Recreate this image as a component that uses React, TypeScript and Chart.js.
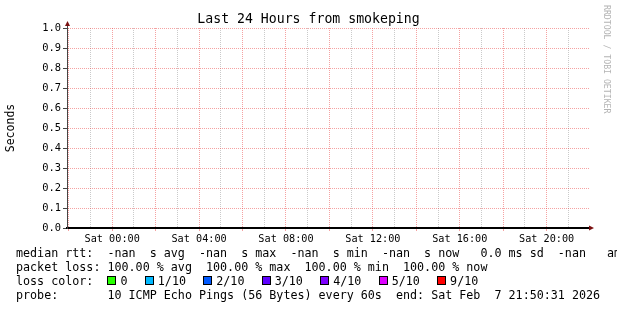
import React, { useEffect, useRef } from "react";
import { Chart, registerables } from "chart.js";

Chart.register(...registerables);

const FONT = "'DejaVu Sans Mono', monospace";

// ---- time axis (hours relative to Sat 00:00) ----
const windowStartHour = -2.08;
const windowEndHour = 21.95;
const hourGridTicks = [-2, -1, 0, 1, 2, 3, 4, 5, 6, 7, 8, 9, 10, 11, 12, 13, 14, 15, 16, 17, 18, 19, 20, 21];
const labelHours = [0, 4, 8, 12, 16, 20];
const labelTexts = ["Sat 00:00", "Sat 04:00", "Sat 08:00", "Sat 12:00", "Sat 16:00", "Sat 20:00"];

// ---- value axis ----
const yTickValues = [0, 0.1, 0.2, 0.3, 0.4, 0.5, 0.6, 0.7, 0.8, 0.9, 1.0];
const yTickLabels = ["0.0", "0.1", "0.2", "0.3", "0.4", "0.5", "0.6", "0.7", "0.8", "0.9", "1.0"];

// ---- series: median rtt (all samples are -nan, 100% loss) ----
const sampleHours = [-2, -1, 0, 1, 2, 3, 4, 5, 6, 7, 8, 9, 10, 11, 12, 13, 14, 15, 16, 17, 18, 19, 20, 21];
const medianRtt: (number | null)[] = [
  null, null, null, null, null, null, null, null, null, null, null, null,
  null, null, null, null, null, null, null, null, null, null, null, null,
];

// ---- legend ----
const lossLabels = ["0", "1/10", "2/10", "3/10", "4/10", "5/10", "9/10"];
const lossColors = ["#26ff00", "#00b8ff", "#0059ff", "#5e00ff", "#7e00ff", "#dd00ff", "#ff0000"];

const titleText = "Last 24 Hours from smokeping";
const yAxisTitle = "Seconds";
const watermarkText = "RRDTOOL / TOBI OETIKER";
const medianLine = "median rtt:  -nan  s avg  -nan  s max  -nan  s min  -nan  s now   0.0 ms sd  -nan   am";
const lossLine = "packet loss: 100.00 % avg  100.00 % max  100.00 % min  100.00 % now";
const lossColorLabel = "loss color:  ";
const probeLine = "probe:       10 ICMP Echo Pings (56 Bytes) every 60s  end: Sat Feb  7 21:50:31 2026";

const MAJOR = "rgba(235,70,70,0.5)";
const MINOR = "rgba(150,150,150,0.5)";
const ARROW = "#7a1010";

const arrowPlugin = {
  id: "rrdArrows",
  afterDraw(chart: any) {
    const { ctx, chartArea } = chart;
    const { left, right, top, bottom } = chartArea;
    ctx.save();
    ctx.strokeStyle = "#444";
    ctx.lineWidth = 1;
    ctx.beginPath();
    ctx.moveTo(left + 0.5, top);
    ctx.lineTo(left + 0.5, top - 4);
    ctx.stroke();
    ctx.fillStyle = ARROW;
    ctx.beginPath();
    ctx.moveTo(left - 2, top - 2);
    ctx.lineTo(left + 3, top - 2);
    ctx.lineTo(left + 0.5, top - 7);
    ctx.closePath();
    ctx.fill();
    ctx.beginPath();
    ctx.moveTo(right, bottom - 2.5);
    ctx.lineTo(right, bottom + 2.5);
    ctx.lineTo(right + 5, bottom);
    ctx.closePath();
    ctx.fill();
    ctx.restore();
  },
};

export default function App() {
  const canvasRef = useRef<HTMLCanvasElement | null>(null);

  useEffect(() => {
    const canvas = canvasRef.current;
    if (!canvas) return;
    const chart = new Chart(canvas, {
      type: "line",
      data: {
        datasets: [
          {
            label: "median rtt",
            data: sampleHours.map((h, i) => ({ x: h, y: medianRtt[i] })) as any,
            borderColor: "#000",
            borderWidth: 1,
            pointRadius: 0,
            spanGaps: false,
          },
        ],
      },
      options: {
        animation: false,
        responsive: false,
        maintainAspectRatio: false,
        layout: { padding: { top: 28, right: 28, bottom: 0, left: 0 } },
        plugins: {
          legend: { display: false },
          tooltip: { enabled: false },
          title: { display: false },
        },
        scales: {
          x: {
            type: "linear",
            min: windowStartHour,
            max: windowEndHour,
            afterBuildTicks: (scale: any) => {
              scale.ticks = hourGridTicks.map((v) => ({ value: v }));
            },
            afterFit: (scale: any) => {
              scale.height = 82;
              scale.paddingLeft = 0;
              scale.paddingRight = 0;
            },
            grid: {
              color: (c: any) => (c.tick && c.tick.value % 2 === 0 ? MAJOR : MINOR),
              lineWidth: 1,
              tickLength: 3,
              tickColor: (c: any) => (c.tick && c.tick.value % 2 === 0 ? MAJOR : "rgba(0,0,0,0)"),
              tickBorderDash: [],
            },
            border: { display: true, color: "#000", width: 2, dash: [1, 1] },
            ticks: {
              autoSkip: false,
              maxRotation: 0,
              minRotation: 0,
              padding: 2,
              color: "#000",
              font: { family: FONT, size: 10.2 },
              callback: (value: any) => {
                const i = labelHours.indexOf(Number(value));
                return i >= 0 ? labelTexts[i] : "";
              },
            },
          },
          y: {
            type: "linear",
            min: 0,
            max: 1,
            afterBuildTicks: (scale: any) => {
              scale.ticks = yTickValues.map((v) => ({ value: v }));
            },
            afterFit: (scale: any) => {
              scale.width = 67;
              scale.paddingTop = 0;
              scale.paddingBottom = 0;
            },
            grid: {
              color: MAJOR,
              lineWidth: 1,
              tickLength: 4,
              tickColor: "#444",
              tickBorderDash: [],
            },
            border: { display: true, color: "#444", width: 1, dash: [1, 1] },
            title: {
              display: true,
              text: yAxisTitle,
              color: "#000",
              font: { family: FONT, size: 11.5 },
              padding: { top: 4, bottom: 0 },
            },
            ticks: {
              autoSkip: false,
              padding: 2,
              color: "#000",
              font: { family: FONT, size: 10.4 },
              callback: (_v: any, i: number) => yTickLabels[i],
            },
          },
        },
      },
      plugins: [arrowPlugin],
    });
    return () => chart.destroy();
  }, []);

  const lineStyle = (top: number): React.CSSProperties => ({
    position: "absolute",
    left: 16,
    top,
    whiteSpace: "pre",
    fontFamily: FONT,
    fontSize: "11.7px",
    lineHeight: "14px",
    color: "#000",
  });

  return (
    <div
      style={{
        position: "absolute",
        left: 0,
        top: 0,
        width: 617,
        height: 310,
        overflow: "hidden",
        background: "#fff",
      }}
    >
      <canvas ref={canvasRef} width={617} height={310} style={{ display: "block" }} />
      <div
        style={{
          position: "absolute",
          left: 0,
          top: 11.4,
          width: 617,
          textAlign: "center",
          fontFamily: FONT,
          fontSize: "13.2px",
          lineHeight: "16px",
          color: "#000",
          whiteSpace: "pre",
        }}
      >
        {titleText}
      </div>
      <div
        style={{
          position: "absolute",
          left: 601.5,
          top: 5,
          writingMode: "vertical-rl",
          fontFamily: FONT,
          fontSize: "8.2px",
          lineHeight: "9px",
          color: "#b4b4b4",
          whiteSpace: "pre",
        }}
      >
        {watermarkText}
      </div>
      <div style={lineStyle(246)}>{medianLine}</div>
      <div style={lineStyle(260)}>{lossLine}</div>
      <div style={lineStyle(274)}>
        {lossColorLabel}
        {lossLabels.map((lab, i) => (
          <span key={lab}>
            <span
              style={{
                display: "inline-block",
                width: 9,
                height: 9,
                boxSizing: "border-box",
                border: "1px solid #000",
                background: lossColors[i],
                verticalAlign: "baseline",
              }}
            />
            <span style={{ marginLeft: 4 }}>{lab}</span>
            <span style={{ display: "inline-block", width: 17.3 }} />
          </span>
        ))}
      </div>
      <div style={lineStyle(288)}>{probeLine}</div>
    </div>
  );
}
